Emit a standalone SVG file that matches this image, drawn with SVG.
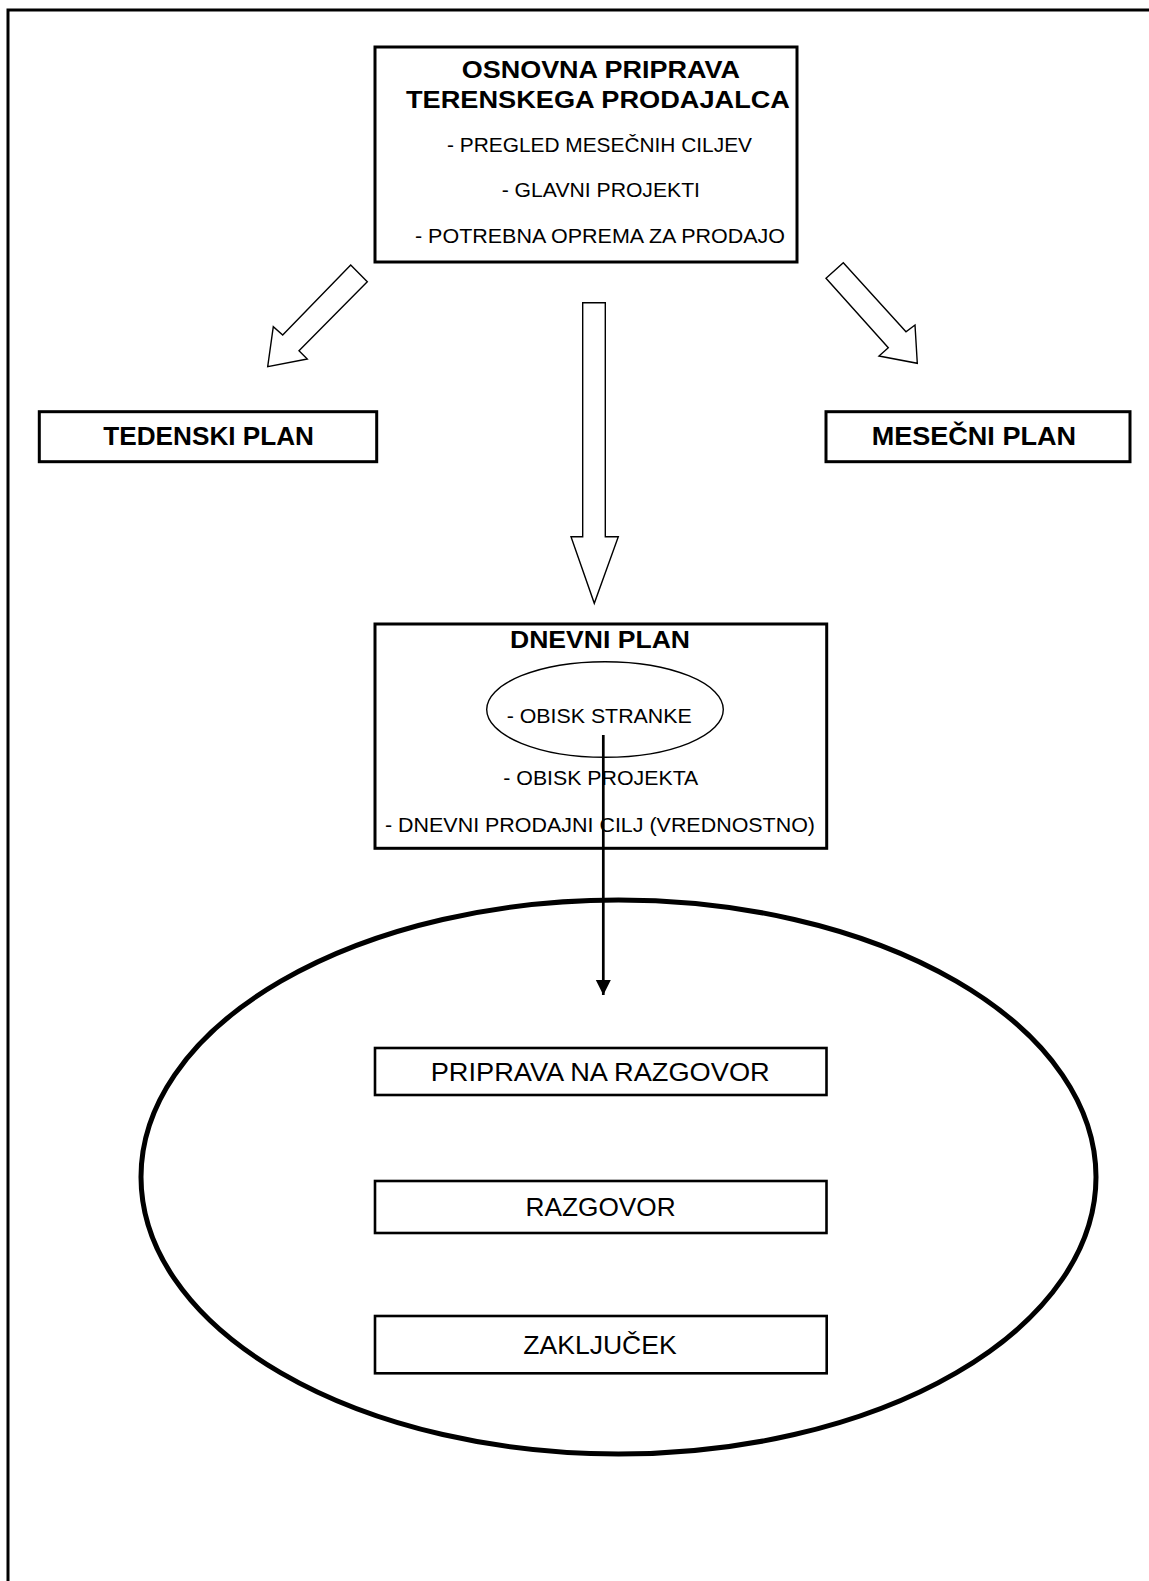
<svg xmlns="http://www.w3.org/2000/svg" width="1149" height="1581" viewBox="0 0 1149 1581">
  <style>
    .box { fill: #fff; stroke: #000; stroke-width: 3; }
    .sub { fill: #fff; stroke: #000; stroke-width: 2.6; }
    .block { fill: #fff; stroke: #000; stroke-width: 1.4; stroke-linejoin: miter; }
    .b { font-family: "Liberation Sans", Arial, sans-serif; font-weight: bold; fill: #000; }
    .r { font-family: "Liberation Sans", Arial, sans-serif; fill: #000; }
  </style>
  <defs>
    <marker id="head" viewBox="0 0 10 10" refX="10" refY="5" markerUnits="userSpaceOnUse" markerWidth="15" markerHeight="16" orient="auto">
      <path d="M0,0 L10,5 L0,10 Z" fill="#000"/>
    </marker>
  </defs>

  <!-- page frame -->
  <rect x="8" y="10" width="1200" height="1620" fill="none" stroke="#000" stroke-width="3"/>

  <!-- top box -->
  <g id="osnovna-priprava">
    <rect class="box" x="375" y="47" width="422" height="215"/>
    <text class="b" x="461.7" y="78.3" font-size="23.5" textLength="278.3" lengthAdjust="spacingAndGlyphs">OSNOVNA PRIPRAVA</text>
    <text class="b" x="406" y="108.3" font-size="23.5" textLength="384" lengthAdjust="spacingAndGlyphs">TERENSKEGA PRODAJALCA</text>
    <text class="r" x="447" y="151.7" font-size="21" textLength="305" lengthAdjust="spacingAndGlyphs">- PREGLED MESEČNIH CILJEV</text>
    <text class="r" x="501.7" y="196.7" font-size="21" textLength="198.3" lengthAdjust="spacingAndGlyphs">- GLAVNI PROJEKTI</text>
    <text class="r" x="415" y="243" font-size="21" textLength="370" lengthAdjust="spacingAndGlyphs">- POTREBNA OPREMA ZA PRODAJO</text>
  </g>

  <g id="tedenski-plan">
    <rect class="box" x="39.3" y="411.7" width="337.4" height="50"/>
    <text class="b" x="103.3" y="445" font-size="25.5" textLength="210.7" lengthAdjust="spacingAndGlyphs">TEDENSKI PLAN</text>
  </g>

  <g id="mesecni-plan">
    <rect class="box" x="826" y="411.7" width="304" height="50"/>
    <text class="b" x="871.7" y="445" font-size="25.5" textLength="204.3" lengthAdjust="spacingAndGlyphs">MESEČNI PLAN</text>
  </g>

  <g id="dnevni-plan">
    <rect class="box" x="375" y="624" width="451.7" height="224.3"/>
    <text class="b" x="510" y="648.3" font-size="23.5" textLength="180" lengthAdjust="spacingAndGlyphs">DNEVNI PLAN</text>
    <ellipse cx="605" cy="709.5" rx="118.3" ry="47.8" fill="none" stroke="#000" stroke-width="1.4"/>
    <text class="r" x="506.7" y="723.3" font-size="21" textLength="185" lengthAdjust="spacingAndGlyphs">- OBISK STRANKE</text>
    <text class="r" x="503.3" y="785" font-size="21" textLength="195" lengthAdjust="spacingAndGlyphs">- OBISK PROJEKTA</text>
    <text class="r" x="385" y="831.7" font-size="21" textLength="430" lengthAdjust="spacingAndGlyphs">- DNEVNI PRODAJNI CILJ (VREDNOSTNO)</text>
  </g>

  <!-- customer visit cycle -->
  <g id="obisk">
    <ellipse cx="618.5" cy="1177" rx="477.5" ry="277" fill="none" stroke="#000" stroke-width="5"/>
  </g>

  <g id="priprava-na-razgovor">
    <rect class="sub" x="375" y="1048" width="451.5" height="47"/>
    <text class="r" x="430.7" y="1081" font-size="25.5" textLength="339" lengthAdjust="spacingAndGlyphs">PRIPRAVA NA RAZGOVOR</text>
  </g>

  <g id="razgovor">
    <rect class="sub" x="375" y="1181" width="451.5" height="52"/>
    <text class="r" x="525.6" y="1216" font-size="25.5" textLength="150" lengthAdjust="spacingAndGlyphs">RAZGOVOR</text>
  </g>

  <g id="zakljucek">
    <rect class="sub" x="375" y="1316" width="451.7" height="57.3"/>
    <text class="r" x="523.3" y="1354" font-size="25.5" textLength="153.4" lengthAdjust="spacingAndGlyphs">ZAKLJUČEK</text>
  </g>

  <!-- connectors -->
  <g id="connectors">
    <polygon class="block" points="350.7,265 282.7,335 273.3,326.7 267.7,366.7 307.3,359 299,350.7 367.3,281.7"/>
    <polygon class="block" points="843.3,262.7 906,331.7 915,325 917.3,363.3 879,356 888.3,347.7 826,278.3"/>
    <polygon class="block" points="582.7,302.7 605.3,302.7 605.3,536.7 618.3,536.7 594.3,603.3 571,536.7 582.7,536.7"/>
    <line x1="603.3" y1="735" x2="603.3" y2="995" stroke="#000" stroke-width="2.7" marker-end="url(#head)"/>
  </g>
</svg>
